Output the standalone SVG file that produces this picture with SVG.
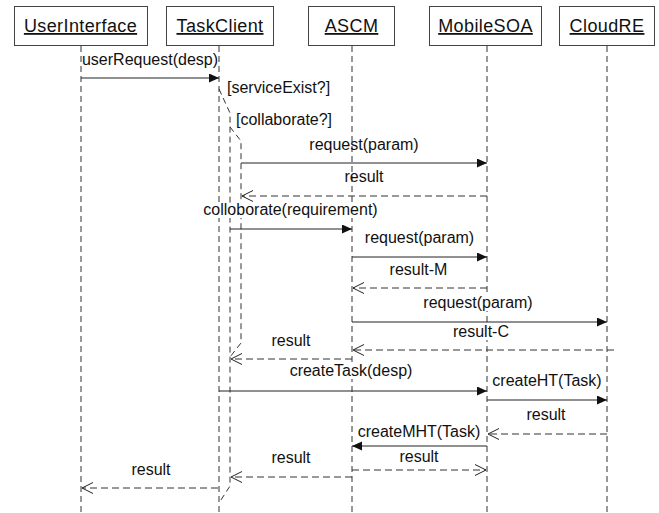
<svg xmlns="http://www.w3.org/2000/svg" width="659" height="513" viewBox="0 0 659 513">
<style>
.box{fill:#fff;stroke:#444;stroke-width:1}
.hdr{font-family:"Liberation Sans",Arial,sans-serif;font-size:18px;letter-spacing:0.4px;fill:#111;text-anchor:middle;text-decoration:underline}
.life{stroke:#333;stroke-width:1;stroke-dasharray:6,4;fill:none}
.msg{stroke:#222;stroke-width:1;fill:none}
.ret{stroke:#333;stroke-width:1;stroke-dasharray:7,4;fill:none}
.lbl{font-family:"Liberation Sans",Arial,sans-serif;font-size:16px;fill:#111;text-anchor:middle}
.lbs{font-family:"Liberation Sans",Arial,sans-serif;font-size:16px;fill:#111}
.bg{fill:#fff}
</style>
<defs>
<marker id="fill" markerUnits="userSpaceOnUse" markerWidth="11" markerHeight="10" refX="10" refY="4.5" orient="auto">
<path d="M0,0 L10,4.5 L0,9 z" fill="#111"/>
</marker>
<marker id="open" markerUnits="userSpaceOnUse" markerWidth="12" markerHeight="12" refX="11" refY="6" orient="auto">
<path d="M0,0.5 L11,6 L0,11.5" fill="none" stroke="#222" stroke-width="1"/>
</marker>
</defs>
<rect width="659" height="513" fill="#fff"/>
<g id="UserInterface">
<rect class="box" x="14.5" y="6.5" width="133" height="39"/>
<text class="hdr" x="80.5" y="32">UserInterface</text>
<line class="life" x1="81" y1="46" x2="81" y2="513"/>
</g>
<g id="TaskClient">
<rect class="box" x="166.5" y="6.5" width="107" height="39"/>
<text class="hdr" x="220" y="32">TaskClient</text>
<line class="life" x1="219" y1="46" x2="219" y2="513"/>
<path class="life" d="M219,89 L230,113 L230,486 L219,503"/>
<path class="life" d="M230,127 L241,141 L241,343 L230,357"/>
</g>
<g id="ASCM">
<rect class="box" x="308.5" y="6.5" width="86" height="39"/>
<text class="hdr" x="351.5" y="32">ASCM</text>
<line class="life" x1="352" y1="46" x2="352" y2="513"/>
</g>
<g id="MobileSOA">
<rect class="box" x="429.5" y="6.5" width="112" height="39"/>
<text class="hdr" x="485.5" y="32">MobileSOA</text>
<line class="life" x1="487" y1="46" x2="487" y2="513"/>
</g>
<g id="CloudRE">
<rect class="box" x="559.5" y="6.5" width="95" height="39"/>
<text class="hdr" x="607" y="32">CloudRE</text>
<line class="life" x1="607" y1="46" x2="607" y2="513"/>
</g>
<g id="connectors">
<line class="msg" x1="81" y1="78" x2="219" y2="78" marker-end="url(#fill)"/>
<line class="msg" x1="241" y1="163" x2="487" y2="163" marker-end="url(#fill)"/>
<line class="ret" x1="487" y1="196" x2="242" y2="196" marker-end="url(#open)"/>
<line class="msg" x1="230" y1="229" x2="352" y2="229" marker-end="url(#fill)"/>
<line class="msg" x1="352" y1="257" x2="487" y2="257" marker-end="url(#fill)"/>
<line class="ret" x1="487" y1="288" x2="353" y2="288" marker-end="url(#open)"/>
<line class="msg" x1="352" y1="322" x2="607" y2="322" marker-end="url(#fill)"/>
<line class="ret" x1="614" y1="350" x2="353" y2="350" marker-end="url(#open)"/>
<line class="ret" x1="352" y1="359" x2="231" y2="359" marker-end="url(#open)"/>
<line class="msg" x1="219" y1="391" x2="487" y2="391" marker-end="url(#fill)"/>
<line class="msg" x1="487" y1="400" x2="607" y2="400" marker-end="url(#fill)"/>
<line class="ret" x1="607" y1="434" x2="488" y2="434" marker-end="url(#open)"/>
<line class="msg" x1="487" y1="446" x2="352" y2="446" marker-end="url(#fill)"/>
<line class="ret" x1="352" y1="470" x2="486" y2="470" marker-end="url(#open)"/>
<line class="ret" x1="352" y1="477" x2="231" y2="477" marker-end="url(#open)"/>
<line class="ret" x1="218" y1="488" x2="82" y2="488" marker-end="url(#open)"/>
</g>
<g id="labels">
<rect class="bg" x="203" y="203" width="176" height="15"/>
<rect class="bg" x="423" y="296" width="110" height="15"/>
<rect class="bg" x="452" y="325" width="58" height="15"/>
<rect class="bg" x="290" y="364" width="123" height="15"/>
<text class="lbl" x="150" y="65">userRequest(desp)</text>
<text class="lbs" x="227" y="93">[serviceExist?]</text>
<text class="lbs" x="236" y="125">[collaborate?]</text>
<text class="lbl" x="364" y="150">request(param)</text>
<text class="lbl" x="364" y="182">result</text>
<text class="lbl" x="290.5" y="215">colloborate(requirement)</text>
<text class="lbl" x="419.5" y="243">request(param)</text>
<text class="lbl" x="418.5" y="275">result-M</text>
<text class="lbl" x="478" y="308">request(param)</text>
<text class="lbl" x="481" y="337">result-C</text>
<text class="lbl" x="291" y="346">result</text>
<text class="lbl" x="351" y="376">createTask(desp)</text>
<text class="lbl" x="547" y="386">createHT(Task)</text>
<text class="lbl" x="546" y="420">result</text>
<text class="lbl" x="419" y="437">createMHT(Task)</text>
<text class="lbl" x="419" y="462">result</text>
<text class="lbl" x="291" y="463">result</text>
<text class="lbl" x="151" y="475">result</text>
</g>
</svg>
